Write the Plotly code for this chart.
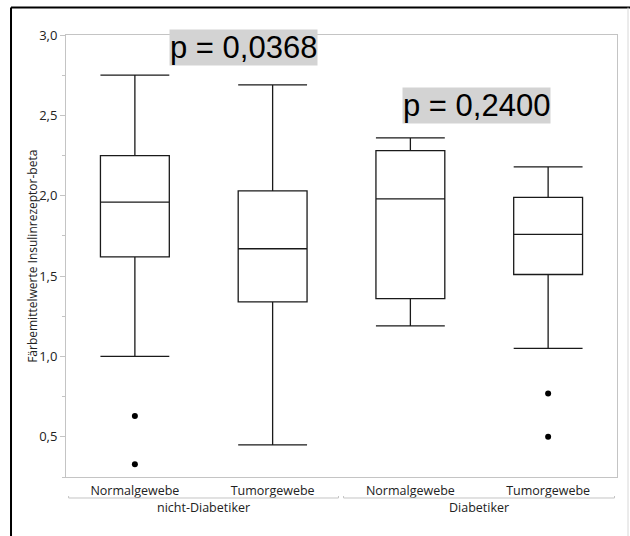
import plotly.graph_objects as go

# Box statistics per tissue type and patient group
groups = ["nicht-Diabetiker", "nicht-Diabetiker", "Diabetiker", "Diabetiker"]
tissues = ["Normalgewebe", "Tumorgewebe", "Normalgewebe", "Tumorgewebe"]
lower_whisker = [1.00, 0.45, 1.19, 1.05]
q1 = [1.62, 1.34, 1.36, 1.51]
median = [1.96, 1.67, 1.98, 1.76]
q3 = [2.25, 2.03, 2.28, 1.99]
upper_whisker = [2.75, 2.69, 2.36, 2.18]

# Outliers (category index, value)
outlier_pos = [0, 0, 3, 3]
outlier_val = [0.63, 0.33, 0.77, 0.50]

# p-values for the two group comparisons
p_labels = ["p = 0,0368", "p = 0,2400"]
p_x = [0.785, 2.477]
p_y = [2.925, 2.562]

group_names = ["nicht-Diabetiker", "Diabetiker"]

LINE = "#1a1a1a"
AXIS = "#c4c4c4"
FONT = "Open Sans"

fig = go.Figure()

for i in range(len(tissues)):
    fig.add_trace(go.Box(
        x=[i],
        q1=[q1[i]], median=[median[i]], q3=[q3[i]],
        lowerfence=[lower_whisker[i]], upperfence=[upper_whisker[i]],
        width=0.5, whiskerwidth=1,
        fillcolor="white",
        line=dict(color=LINE, width=1.3),
        boxpoints=False,
        showlegend=False,
        hoverinfo="skip",
    ))

fig.add_trace(go.Scatter(
    x=outlier_pos, y=outlier_val, mode="markers",
    marker=dict(color="black", size=6),
    showlegend=False, hoverinfo="skip",
))

annotations = []
for txt, ax, ay in zip(p_labels, p_x, p_y):
    annotations.append(dict(
        x=ax, y=ay, xref="x", yref="y", text=txt, showarrow=False,
        font=dict(family="Liberation Sans", size=31, color="black"),
        bgcolor="#d3d3d3", borderpad=0,
        xanchor="center", yanchor="middle",
    ))

# y-axis title
annotations.append(dict(
    x=-0.062, y=0.5, xref="paper", yref="paper",
    text="Färbemittelwerte Insulinrezeptor-beta", textangle=-90,
    showarrow=False, font=dict(family=FONT, size=12, color="#222"),
    xanchor="center", yanchor="middle",
))

# group labels below the brackets
for gx, name in zip([0.5, 2.5], group_names):
    annotations.append(dict(
        x=gx, y=-0.070, xref="x", yref="paper", text=name,
        showarrow=False, font=dict(family=FONT, size=12.5, color="#222"),
        xanchor="center", yanchor="middle",
    ))

shapes = []
# group brackets
for x0, x1 in [(-0.481, 1.478), (1.515, 3.482)]:
    shapes.append(dict(
        type="path", xref="x", yref="paper",
        path=f"M {x0},-0.043 L {x0},-0.0475 L {x1},-0.0475 L {x1},-0.043",
        line=dict(color=AXIS, width=1),
    ))

# outer frame
shapes.append(dict(type="line", xref="paper", yref="paper",
                   x0=-0.0998, x1=-0.0998, y0=1.062, y1=-0.2,
                   line=dict(color="black", width=2)))
shapes.append(dict(type="line", xref="paper", yref="paper",
                   x0=-0.0998, x1=1.03, y0=1.062, y1=1.062,
                   line=dict(color="black", width=2)))
shapes.append(dict(type="line", xref="paper", yref="paper",
                   x0=1.0200, x1=1.0200, y0=1.062, y1=-0.2,
                   line=dict(color="#d8d8d8", width=1)))

fig.update_layout(
    width=630, height=536,
    margin=dict(l=66, r=13, t=35, b=59),
    paper_bgcolor="white", plot_bgcolor="white",
    separators=",.",
    font=dict(family=FONT, size=12.5, color="#222"),
    annotations=annotations,
    shapes=shapes,
    showlegend=False,
)

fig.update_xaxes(
    range=[-0.5, 3.5],
    tickmode="array", tickvals=list(range(len(tissues))), ticktext=tissues,
    ticks="", showgrid=False, zeroline=False,
    showline=True, linecolor=AXIS, linewidth=1, mirror=True,
    tickfont=dict(family=FONT, size=12.5, color="#222"),
    ticklabelstandoff=2,
)

fig.update_yaxes(
    range=[0.25, 3.0],
    tick0=0.5, dtick=0.5, tickformat=".1f",
    ticks="outside", ticklen=5, tickcolor=AXIS,
    minor=dict(ticks="outside", ticklen=3, tickcolor=AXIS, dtick=0.25, tick0=0.25),
    showgrid=False, zeroline=False,
    showline=True, linecolor=AXIS, linewidth=1, mirror=True,
    tickfont=dict(family=FONT, size=13, color="#222"),
)

fig.write_html("out.html")
